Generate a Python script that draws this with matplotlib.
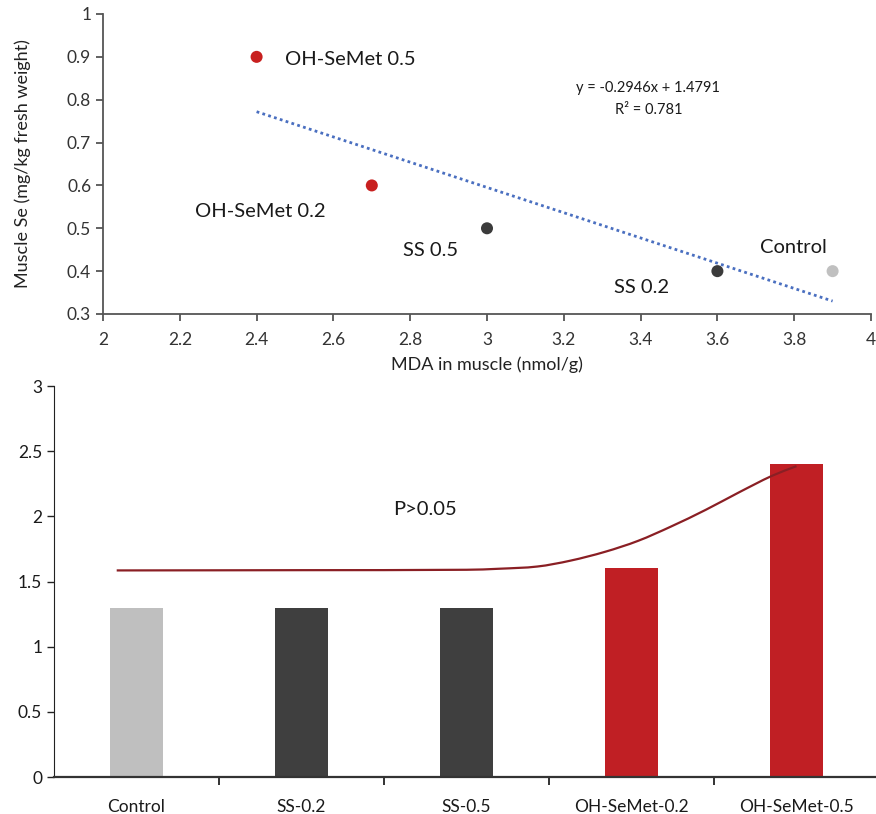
import matplotlib
matplotlib.use("Agg")
import matplotlib.pyplot as plt
import numpy as np
from matplotlib.path import Path
from matplotlib.patches import PathPatch

plt.rcParams['font.family'] = ['Lato', 'DejaVu Sans']

# ---- top scatter data ----
mda = [2.4, 2.7, 3.0, 3.6, 3.9]
muscle_se = [0.9, 0.6, 0.5, 0.4, 0.4]
point_labels = ["OH-SeMet 0.5", "OH-SeMet 0.2", "SS 0.5", "SS 0.2", "Control"]
point_colors = ["#c8201f", "#c8201f", "#3b3b3b", "#3b3b3b", "#c0c0c0"]
slope, intercept = -0.2946, 1.4791
r2 = 0.781
fit_x = [2.4, 3.9]

# ---- bottom bar data ----
groups = ["Control", "SS-0.2", "SS-0.5", "OH-SeMet-0.2", "OH-SeMet-0.5"]
bar_values = [1.3, 1.3, 1.3, 1.6, 2.4]
bar_colors = ["#bfbfbf", "#3f3f3f", "#3f3f3f", "#c01f24", "#c01f24"]
curve_x = [-0.12, 1.0, 2.0, 2.2, 2.43, 2.63, 2.84, 3.04, 3.24, 3.45, 3.65, 3.85, 4.0]
curve_y = [1.585, 1.587, 1.59, 1.598, 1.615, 1.66, 1.728, 1.812, 1.922, 2.05, 2.183, 2.31, 2.385]

fig = plt.figure(figsize=(8.76, 8.14), dpi=100)

# ===== top chart =====
ax1 = fig.add_axes([103/876, 1-314/814, (871-103)/876, (314-14)/814])
for x, y, c in zip(mda, muscle_se, point_colors):
    ax1.scatter(x, y, s=75, color=c, zorder=3, edgecolors='none')
fy = [slope*v + intercept for v in fit_x]
ax1.plot(fit_x, fy, linestyle=(0, (1, 1.2)), color="#4a6fc0", lw=2.0, zorder=2)
ax1.set_xlim(2, 4)
ax1.set_ylim(0.3, 1.0)
ax1.set_xticks(np.arange(2, 4.01, 0.2))
ax1.set_xticklabels(["2", "2.2", "2.4", "2.6", "2.8", "3", "3.2", "3.4", "3.6", "3.8", "4"])
ax1.set_yticks(np.arange(0.3, 1.01, 0.1))
ax1.set_yticklabels(["0.3", "0.4", "0.5", "0.6", "0.7", "0.8", "0.9", "1"])
for s in ["top", "right"]:
    ax1.spines[s].set_visible(False)
for s in ["left", "bottom"]:
    ax1.spines[s].set_color("#555555")
    ax1.spines[s].set_linewidth(1.3)
ax1.tick_params(axis='both', labelsize=12.5, color="#555555", width=1.3, length=5, colors="#333333")
ax1.tick_params(axis='x', pad=8)
ax1.set_xlabel("MDA in muscle (nmol/g)", fontsize=13, color="#222222", labelpad=6)
ax1.set_ylabel("Muscle Se (mg/kg fresh weight)", fontsize=13, color="#222222", labelpad=26)

label_pos = [(2.475, 0.895, 'left'), (2.24, 0.54, 'left'), (2.78, 0.448, 'left'),
             (3.33, 0.362, 'left'), (3.71, 0.455, 'left')]
for (lx, ly, ha), t in zip(label_pos, point_labels):
    ax1.text(lx, ly, t, fontsize=14.5, ha=ha, va='center', color="#1a1a1a")
ax1.text(3.42, 0.827, f"y = {slope}x + {intercept}", fontsize=10.5, ha='center', va='center', color="#1a1a1a")
ax1.text(3.42, 0.776, f"R² = {r2}", fontsize=10.5, ha='center', va='center', color="#1a1a1a")

# ===== bottom chart =====
ax2 = fig.add_axes([54/876, 1-777/814, (876-54)/876, (777-386)/814])
xpos = np.arange(len(groups))
ax2.bar(xpos, bar_values, width=0.32, color=bar_colors, zorder=2)
# smooth curve through the read points (cubic Hermite -> Bezier segments)
cx = np.asarray(curve_x, float)
cy = np.asarray(curve_y, float)
n = len(cx)
m = np.empty(n)
m[0] = (cy[1] - cy[0]) / (cx[1] - cx[0])
m[-1] = (cy[-1] - cy[-2]) / (cx[-1] - cx[-2])
for i in range(1, n - 1):
    m[i] = (cy[i + 1] - cy[i - 1]) / (cx[i + 1] - cx[i - 1])
verts = [(cx[0], cy[0])]
codes = [Path.MOVETO]
for i in range(n - 1):
    h = cx[i + 1] - cx[i]
    verts += [(cx[i] + h / 3, cy[i] + m[i] * h / 3),
              (cx[i + 1] - h / 3, cy[i + 1] - m[i + 1] * h / 3),
              (cx[i + 1], cy[i + 1])]
    codes += [Path.CURVE4] * 3
ax2.add_patch(PathPatch(Path(verts, codes), facecolor='none', edgecolor="#8a1f24", lw=1.6, zorder=3))
ax2.set_xlim(-0.5, -0.5 + (876-54)/165)
ax2.set_ylim(0, 3)
ax2.set_yticks(np.arange(0, 3.01, 0.5))
ax2.set_yticklabels(["0", "0.5", "1", "1.5", "2", "2.5", "3"])
ax2.set_xticks(xpos)
ax2.set_xticklabels(groups)
ax2.set_xticks(np.arange(0.5, 4.0, 1.0), minor=True)
ax2.tick_params(axis='x', which='major', length=0, labelsize=12.5, pad=16, colors="#1a1a1a")
ax2.tick_params(axis='x', which='minor', length=6, width=1.3, color="#222222")
ax2.tick_params(axis='y', labelsize=12.5, length=5, width=1.0, color="#222222", colors="#1a1a1a")
for s in ["top", "right"]:
    ax2.spines[s].set_visible(False)
ax2.spines["left"].set_color("#222222")
ax2.spines["bottom"].set_color("#333333")
ax2.spines["bottom"].set_linewidth(1.6)
ax2.text(1.75, 2.05, "P>0.05", fontsize=14.5, ha='center', va='center', color="#1a1a1a")

fig.savefig("out.png", dpi=100)
